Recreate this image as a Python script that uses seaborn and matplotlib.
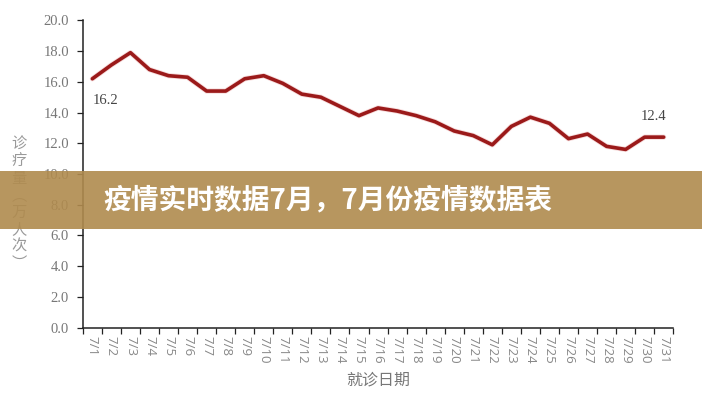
import matplotlib
matplotlib.use("Agg")
import matplotlib.pyplot as plt
import seaborn as sns
import pandas as pd
from matplotlib.patches import Rectangle
from matplotlib.ticker import FixedLocator

dates = [f"7/{d}" for d in range(1, 32)]
visits = [16.2, 17.1, 17.9, 16.8, 16.4, 16.3, 15.4, 15.4, 16.2, 16.4,
          15.9, 15.2, 15.0, 14.4, 13.8, 14.3, 14.1, 13.8, 13.4, 12.8,
          12.5, 11.9, 13.1, 13.7, 13.3, 12.3, 12.6, 11.8, 11.6, 12.4, 12.4]
y_ticks = [0, 2, 4, 6, 8, 10, 12, 14, 16, 18, 20]
title_text = "疫情实时数据7月，7月份疫情数据表"
ylabel_text = "诊疗量︵万人次︶"
xlabel_text = "就诊日期"

sns.set_theme(style="white")
plt.rcParams['font.family'] = ['Liberation Serif', 'Noto Sans CJK SC', 'DejaVu Sans']
grey = '#777777'

df = pd.DataFrame({'pos': range(len(dates)), 'date': dates, 'visits': visits})

fig = plt.figure(figsize=(7.02, 4.00), dpi=100)
ax = fig.add_axes([0.118, 0.181, 0.841, 0.768])

# soft halo under the line
ax.plot(df['pos'], df['visits'], color='#e89a9a', lw=3.8, alpha=0.35, zorder=2)
sns.lineplot(data=df, x='pos', y='visits', ax=ax, color='#9b1a1a', lw=2.6, zorder=3)

ax.set_xlim(-0.5, len(dates) - 0.5)
ax.set_ylim(0, 20)
ax.set_yticks(y_ticks)
ax.set_yticklabels([f"{v:.1f}" for v in y_ticks])
ax.set_xticks(df['pos'])
ax.set_xticklabels(dates, rotation=-90, ha='center', va='top', family=['Open Sans', 'DejaVu Sans'])
ax.xaxis.set_minor_locator(FixedLocator([i - 0.5 for i in range(len(dates) + 1)]))

ax.tick_params(axis='x', which='major', length=0, pad=6, labelsize=9.5, labelcolor='#888888')
ax.tick_params(axis='x', which='minor', length=4, width=0.9, color='#222222', direction='out', bottom=True)
ax.tick_params(axis='y', length=4, width=0.9, color='#222222', direction='out', left=True,
               labelsize=10.5, labelcolor=grey, pad=6)

for s in ['top', 'right']:
    ax.spines[s].set_visible(False)
for s in ['left', 'bottom']:
    ax.spines[s].set_color('#222222')
    ax.spines[s].set_linewidth(1.1)

ax.set_xlabel("")
ax.set_ylabel("")

ax.annotate(f"{visits[0]}", (0, visits[0]), xytext=(0, -11), textcoords='offset points',
            ha='left', va='top', fontsize=10.5, color='#444444')
ax.annotate(f"{visits[-1]}", (len(dates) - 1, visits[-1]), xytext=(-7, 10), textcoords='offset points',
            ha='center', va='bottom', fontsize=10.5, color='#444444')

fig.text(0.539, 0.05, xlabel_text, ha='center', va='center', fontsize=11.5, color=grey,
         family=['Noto Sans CJK SC', 'DejaVu Sans'])
fig.text(0.027, 0.49, "\n".join(ylabel_text), ha='center', va='center', fontsize=11, color='#999999',
         linespacing=1.0, family=['Noto Sans CJK SC', 'DejaVu Sans'])

# banner
fig.patches.append(Rectangle((0, 0.4275), 1, 0.145, transform=fig.transFigure,
                             facecolor='#b08b4e', alpha=0.9, edgecolor='none', zorder=10))
fig.text(0.147, 0.5, title_text, ha='left', va='center', fontsize=20, color='white',
         fontweight='heavy', family=['Noto Sans CJK SC', 'DejaVu Sans'], zorder=11)

fig.savefig("out.png", dpi=100)
